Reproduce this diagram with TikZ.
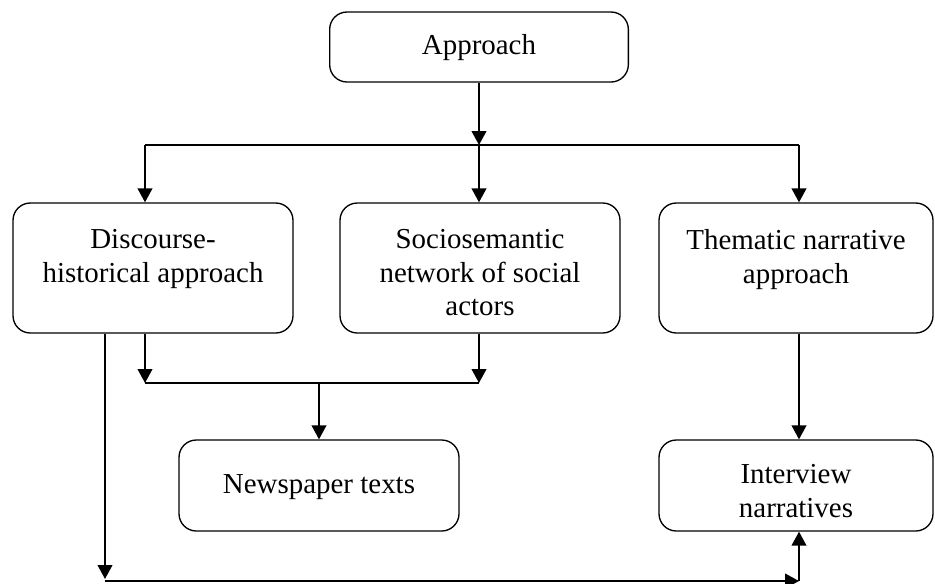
\documentclass[tikz,border=0pt]{standalone}
\usepackage{fontspec}
\setmainfont{Liberation Serif}
\usetikzlibrary{arrows.meta}
\begin{document}
\begin{tikzpicture}[x=0.75pt,y=-0.75pt,
  box/.style={draw, line width=1pt, rounded corners=13pt, inner sep=0pt},
  txt/.style={align=center, inner sep=0pt, font=\fontsize{21.7}{25.3}\selectfont},
  conn/.style={line width=1.5pt},
  arr/.style={conn, -{Triangle[length=10.5pt,width=11pt]}}]
\useasboundingbox (0,0) rectangle (935,583);
\node[box, minimum width=224pt, minimum height=52.5pt] (app) at (479,47) {};
\node[txt] (appT) at (479,47.5) {Approach};
\node[box, minimum width=210pt, minimum height=97.5pt] (disc) at (153,268) {};
\node[txt, anchor=north] (discT) at (153,229) {Discourse-\\historical approach};
\node[box, minimum width=210pt, minimum height=97.5pt] (socio) at (480,268) {};
\node[txt, anchor=north] (socioT) at (480,229) {Sociosemantic\\network of social\\actors};
\node[box, minimum width=205.5pt, minimum height=97.5pt] (them) at (796,268) {};
\node[txt, anchor=north] (themT) at (796,229) {Thematic narrative\\approach};
\node[box, minimum width=210pt, minimum height=68.25pt] (news) at (319,485.5) {};
\node[txt] (newsT) at (319,487) {Newspaper texts};
\node[box, minimum width=205.5pt, minimum height=68.25pt] (inter) at (796,485.5) {};
\node[txt] (interT) at (796,491) {Interview\\narratives};
% top distribution
\coordinate (hTop) at (479,145);
\coordinate (hL) at (145,145);
\coordinate (hR) at (799,145);
\draw[arr] (app.south) -- (app.south |- hTop);
\draw[conn] (hL) -- (hR);
\draw[arr] (hL) -- (hL |- disc.north);
\draw[arr] (hTop) -- (hTop |- socio.north);
\draw[arr] (hR) -- (hR |- them.north);
% middle merge
\coordinate (mL) at (145,383);
\coordinate (mR) at (479,383);
\coordinate (mC) at (319,383);
\draw[arr] (mL |- disc.south) -- (mL);
\draw[arr] (mR |- socio.south) -- (mR);
\draw[conn] (mL) -- (mR);
\draw[arr] (mC) -- (mC |- news.north);
\draw[arr] (hR |- them.south) -- (hR |- inter.north);
% bottom route
\coordinate (bL) at (105,581);
\coordinate (bLt) at (105,579);
\coordinate (bR) at (799,581);
\draw[arr] (bL |- disc.south) -- (bLt);
\draw[arr] (bL) -- (bR);
\draw[arr] (bR) -- (bR |- inter.south);
\end{tikzpicture}
\end{document}
